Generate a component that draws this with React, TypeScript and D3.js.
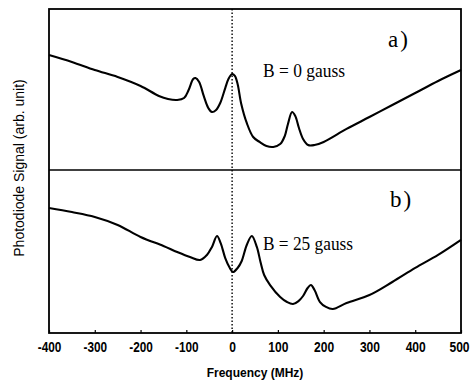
import { useRef, useEffect } from 'react';
import * as d3 from 'd3';

// panel a) B = 0 gauss
const freqA = [
  -400, -350, -300, -250, -200, -160, -140, -120, -105, -95, -85, -80, -72, -62, -52, -44, -35, -26, -15, -8,
  0, 6, 12, 20, 32, 46, 60, 75, 90, 105, 115, 122, 131, 138, 146, 155, 166, 180, 200, 250, 300, 350, 400, 450, 500,
];
const signalA = [
  7.14, 6.71, 6.21, 5.78, 5.22, 4.6, 4.41, 4.35, 4.47, 4.97, 5.65, 5.71, 5.47, 4.6, 3.85, 3.6, 3.73, 4.16, 5.09, 5.65,
  5.96, 5.84, 5.34, 4.1, 2.92, 2.05, 1.74, 1.49, 1.43, 1.61, 2.11, 2.86, 3.6, 3.35, 2.61, 1.93, 1.55, 1.55, 1.74, 2.55,
  3.29, 4.04, 4.78, 5.53, 6.21,
];

// panel b) B = 25 gauss
const freqB = [
  -400, -350, -300, -250, -200, -150, -120, -92, -70, -55, -44, -33, -25, -15, -5, 2, 12, 21, 32, 43, 54, 62, 70, 83,
  105, 120, 133, 145, 155, 165, 172, 180, 192, 205, 220, 250, 300, 350, 400, 450, 500,
];
const signalB = [
  7.67, 7.42, 7.12, 6.63, 5.89, 5.34, 4.97, 4.66, 4.48, 4.79, 5.28, 5.95, 5.52, 4.6, 3.99, 3.74, 3.99, 4.42, 5.4, 5.95,
  5.28, 4.36, 3.56, 2.94, 2.21, 1.9, 1.78, 1.96, 2.27, 2.76, 2.94, 2.64, 1.9, 1.6, 1.47, 1.84, 2.33, 3.13, 3.99, 4.79,
  5.71,
];

const xTicks = [-400, -300, -200, -100, 0, 100, 200, 300, 400, 500];

export default function App() {
  const svgRef = useRef<SVGSVGElement>(null);

  useEffect(() => {
    if (!svgRef.current) return;
    const svg = d3.select(svgRef.current);
    svg.selectAll('*').remove();

    const left = 49;
    const right = 461;
    const top = 9;
    const mid = 170;
    const bottom = 333;

    const x = d3.scaleLinear().domain([-400, 500]).range([left, right]);
    const yA = d3.scaleLinear().domain([0, 10]).range([mid, top]);
    const yB = d3.scaleLinear().domain([0, 10]).range([bottom, mid]);

    const sans = 'Arial, "Liberation Sans", sans-serif';
    const serif = '"Times New Roman", "Liberation Serif", serif';

    // frame
    svg.append('rect')
      .attr('x', left).attr('y', top)
      .attr('width', right - left).attr('height', bottom - top)
      .attr('fill', 'none').attr('stroke', '#000').attr('stroke-width', 1.8);
    svg.append('line')
      .attr('x1', left).attr('x2', right).attr('y1', mid).attr('y2', mid)
      .attr('stroke', '#000').attr('stroke-width', 1.6);

    // zero line
    svg.append('line')
      .attr('x1', x(0)).attr('x2', x(0)).attr('y1', top).attr('y2', bottom)
      .attr('stroke', '#000').attr('stroke-width', 1.4).attr('stroke-dasharray', '1.5,2');

    // x axis (condensed, tall digits like the scan)
    const ax = svg.append('g')
      .attr('transform', `translate(0,${bottom})`)
      .call(d3.axisBottom(x).tickValues(xTicks).tickSize(-3).tickPadding(8.5).tickFormat((d) => String(d)));
    ax.select('.domain').remove();
    ax.selectAll('line').attr('stroke', '#000').attr('stroke-width', 1.2);
    ax.selectAll<SVGTextElement, number>('text')
      .attr('fill', '#000')
      .attr('font-family', sans)
      .attr('font-size', 15)
      .attr('font-weight', 'bold')
      .attr('dx', (d) => (d === 500 ? -2 : 0))
      .attr('textLength', (d) => {
        const s = String(d);
        return s.replace('-', '').length * 6.7 + (s.startsWith('-') ? 3.5 : 0);
      })
      .attr('lengthAdjust', 'spacingAndGlyphs');

    svg.append('text')
      .attr('x', (left + right) / 2).attr('y', 377)
      .attr('text-anchor', 'middle')
      .attr('font-family', sans).attr('font-size', 12).attr('font-weight', 'bold')
      .text('Frequency (MHz)');

    svg.append('text')
      .attr('transform', `translate(24,168) rotate(-90)`)
      .attr('text-anchor', 'middle')
      .attr('font-family', sans).attr('font-size', 14)
      .text('Photodiode Signal (arb. unit)');

    // curves
    const lineA = d3.line<number>()
      .x((_, i) => x(freqA[i]))
      .y((d) => yA(d))
      .curve(d3.curveCatmullRom.alpha(0.5));
    const lineB = d3.line<number>()
      .x((_, i) => x(freqB[i]))
      .y((d) => yB(d))
      .curve(d3.curveCatmullRom.alpha(0.5));

    svg.append('path').attr('d', lineA(signalA)!)
      .attr('fill', 'none').attr('stroke', '#000').attr('stroke-width', 2.1).attr('stroke-linejoin', 'round');
    svg.append('path').attr('d', lineB(signalB)!)
      .attr('fill', 'none').attr('stroke', '#000').attr('stroke-width', 2.1).attr('stroke-linejoin', 'round');

    // panel labels
    svg.append('text').attr('x', 388).attr('y', 47)
      .attr('font-family', serif).attr('font-size', 23).attr('letter-spacing', 2)
      .text('a)');
    svg.append('text').attr('x', 390).attr('y', 207)
      .attr('font-family', serif).attr('font-size', 23).attr('letter-spacing', 2)
      .text('b)');
    svg.append('text').attr('x', 263).attr('y', 77)
      .attr('font-family', serif).attr('font-size', 18)
      .attr('textLength', 82).attr('lengthAdjust', 'spacingAndGlyphs')
      .text('B = 0 gauss');
    svg.append('text').attr('x', 263).attr('y', 250)
      .attr('font-family', serif).attr('font-size', 18)
      .attr('textLength', 90).attr('lengthAdjust', 'spacingAndGlyphs')
      .text('B = 25 gauss');
  }, []);

  return (
    <svg
      ref={svgRef}
      width={473}
      height={381}
      style={{ position: 'absolute', left: 0, top: 0, background: '#fff', display: 'block' }}
    />
  );
}
